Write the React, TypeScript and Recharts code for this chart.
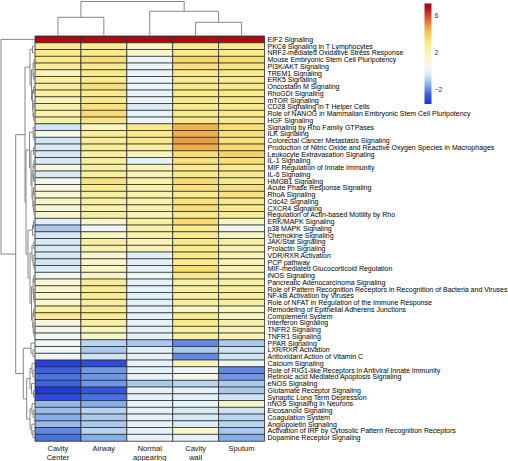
import React from 'react';
import { BarChart, Bar, XAxis, YAxis, Cell, ComposedChart, Line } from 'recharts';

const FONT = '"Liberation Sans", Arial, Helvetica, sans-serif';

const pathways = [
  'EIF2 Signaling',
  'PKC\u03b8 Signaling in T Lymphocytes',
  'NRF2-mediated Oxidative Stress Response',
  'Mouse Embryonic Stem Cell Pluripotency',
  'PI3K/AKT Signaling',
  'TREM1 Signaling',
  'ERK5 Signaling',
  'Oncostatin M Signaling',
  'RhoGDI Signaling',
  'mTOR Signaling',
  'CD28 Signaling in T Helper Cells',
  'Role of NANOG in Mammalian Embryonic Stem Cell Pluripotency',
  'HGF Signaling',
  'Signaling by Rho Family GTPases',
  'ILK Signaling',
  'Colorectal Cancer Metastasis Signaling',
  'Production of Nitric Oxide and Reactive Oxygen Species in Macrophages',
  'Leukocyte Extravasation Signaling',
  'IL-1 Signaling',
  'MIF Regulation of Innate Immunity',
  'IL-6 Signaling',
  'HMGB1 Signaling',
  'Acute Phase Response Signaling',
  'RhoA Signaling',
  'Cdc42 Signaling',
  'CXCR4 Signaling',
  'Regulation of Actin-based Motility by Rho',
  'ERK/MAPK Signaling',
  'p38 MAPK Signaling',
  'Chemokine Signaling',
  'JAK/Stat Signaling',
  'Prolactin Signaling',
  'VDR/RXR Activation',
  'PCP pathway',
  'MIF-mediated Glucocorticoid Regulation',
  'iNOS Signaling',
  'Pancreatic Adenocarcinoma Signaling',
  'Role of Pattern Recognition Receptors in Recognition of Bacteria and Viruses',
  'NF-kB Activation by Viruses',
  'Role of NFAT in Regulation of the Immune Response',
  'Remodeling of Epithelial Adherens Junctions',
  'Complement System',
  'Interferon Signaling',
  'TNFR2 Signaling',
  'TNFR1 Signaling',
  'PPAR Signaling',
  'LXR/RXR Activation',
  'Antioxidant Action of Vitamin C',
  'Calcium Signaling',
  'Role of RIG1-like Receptors in Antiviral Innate Immunity',
  'Retinoic acid Mediated Apoptosis Signaling',
  'eNOS Signaling',
  'Glutamate Receptor Signaling',
  'Synaptic Long Term Depression',
  'nNOS Signaling in Neurons',
  'Eicosanoid Signaling',
  'Coagulation System',
  'Angiopoietin Signaling',
  'Activation of IRF by Cytosolic Pattern Recognition Receptors',
  'Dopamine Receptor Signaling',
];

const columnLabels = ['Cavity\nCenter', 'Airway', 'Normal\nappearing', 'Cavity\nwall', 'Sputum'];

const cavityCenter = [
  7.0, 2.8, 3.0, 3.0, 2.8, 1.8, 2.5, 2.6, 2.5, 2.0,
  2.3, 2.2, 2.5, -0.5, 0.6, -0.5, -0.3, -0.3, -0.3, 0.8,
  -0.2, 0.5, 0.8, 1.0, 1.5, 1.0, 1.2, -0.1, -1.0, -0.3,
  -0.3, -0.3, -0.3, -0.5, -0.2, 0.5, 1.2, 1.2, 1.2, 1.2,
  2.5, 2.8, 0.8, 0.5, 0.5, 0.3, 0.3, 0.3, -3.2, -2.5,
  -2.3, -2.5, -3.4, -3.0, -1.3, -1.2, -1.5, -1.3, -2.0, -2.3,
];
const airway = [
  7.0, 2.8, 3.0, 3.4, 3.0, 3.0, 3.0, 3.4, 3.0, 3.0,
  3.3, 3.4, 3.2, 1.5, 2.8, 2.8, 2.8, 2.5, 2.6, 2.5,
  2.5, 3.3, 3.0, 2.5, 2.5, 2.3, 2.5, 1.4, 0.3, 1.5,
  2.5, 2.3, 1.2, 1.5, 1.5, 1.5, 2.8, 2.8, 2.8, 2.5,
  2.8, 2.8, 2.3, 2.0, 1.5, -0.8, -1.0, -0.5, -3.0, -1.8,
  -1.8, -1.8, -2.8, -2.3, -1.5, -0.8, -1.0, -1.0, -0.8, -1.5,
];
const normalAppearing = [
  7.0, 1.6, 1.2, 0.1, 0.1, 0.1, 0.1, 0.1, 0.1, 0.1,
  -0.2, 0.0, 0.1, 3.0, 3.0, 3.0, 2.5, 1.8, 0.0, 2.0,
  2.0, 2.3, 2.3, 2.3, 2.3, 2.3, 2.0, 2.5, 2.3, 2.3,
  2.0, 2.0, -0.1, -0.1, 0.0, 0.3, 0.0, 0.0, -0.1, -0.1,
  0.0, 0.0, 0.0, 0.0, 0.0, -1.0, 0.0, 0.0, 0.0, 0.0,
  0.0, -1.0, 0.0, 0.0, 0.0, 0.0, 0.0, 0.0, 0.0, 0.0,
];
const cavityWall = [
  7.0, 3.0, 3.0, 3.6, 3.3, 3.0, 3.0, 3.0, 3.0, 3.0,
  3.0, 3.0, 3.0, 4.4, 4.5, 4.8, 4.5, 3.4, 3.3, 3.0,
  3.0, 3.5, 3.3, 3.0, 3.3, 3.5, 3.0, 3.5, 3.0, 3.0,
  3.0, 3.0, 3.0, 3.0, 3.5, 3.0, 2.5, 2.5, 2.5, 2.5,
  1.5, 3.0, 3.0, 2.5, 2.5, -2.0, -1.0, -2.0, 2.0, 0.2,
  0.6, -0.8, 0.0, 0.0, 0.0, -0.3, -0.3, -0.2, 1.3, 0.0,
];
const sputum = [
  7.0, 3.0, 3.0, 3.5, 3.2, 3.0, 3.0, 3.0, 3.0, 3.0,
  3.0, 3.0, 3.0, 3.4, 3.3, 3.3, 3.5, 3.8, 3.4, 3.0,
  3.0, 3.0, 3.3, 3.3, 3.0, 3.0, 2.8, 1.5, 0.5, 1.5,
  2.5, 2.2, 2.0, 2.0, 2.0, 2.0, 2.5, 2.5, 2.5, 2.5,
  1.5, 1.5, 2.3, 2.0, 2.0, -1.0, -0.5, -0.5, 0.5, -2.0,
  -1.8, -1.0, -1.0, -0.5, 1.5, -0.5, -0.8, -0.8, -1.0, -1.5,
];
const seriesValues = [cavityCenter, airway, normalAppearing, cavityWall, sputum];

const scaleMin = -3.54;
const scaleMax = 7.29;
const colorbarTicks = [-2, 0, 2, 4, 6];
const colorStops: [number, string][] = [
  [-3.54, '#1e32d6'],
  [-2.5, '#3c62df'],
  [-1.5, '#86aee9'],
  [-0.5, '#cfe4f5'],
  [0.2, '#eef7fa'],
  [1.0, '#f8f8d6'],
  [2.0, '#f9f3b6'],
  [3.0, '#f9ea8c'],
  [4.0, '#f4cc5c'],
  [4.8, '#ec9e44'],
  [5.8, '#d8502e'],
  [6.6, '#b81c1c'],
  [7.29, '#a00010'],
];

type TreeNode = number | [number, TreeNode, TreeNode];

const columnTree: TreeNode = [34.5, [18.7, 0, 1], [24.7, 2, [13.7, 3, 4]]];

const rowTree: TreeNode = [34, 0, [19.3,
  [10,
    [5, [2.5, 1, 2], [3.5, [2, [1, 3, 4], [1.2, 5, 6]], [2.5, [1.5, 7, 8], [2, [1, 9, 10], [1.3, 11, 12]]]]],
    [9,
      [5.5, [1.8, 13, [1, 14, 15]], [4, [1.5, 16, 17], [3, [2, [1.2, 18, 19], [1.5, 20, 21]], [2.2, [1.5, 22, 23], [1.6, 24, [1, 25, 26]]]]]],
      [7, [2.5, [1.5, 27, 28], 29], [5, [3, [1.2, 30, 31], [2, 32, [1, 33, 34]]], [3.5, [2, [1.3, 35, 36], [1.5, 37, [1, 38, 39]]], [2.2, [1.5, 40, 41], [1.8, 42, [1, 43, 44]]]]]],
    ],
  ],
  [11.7,
    [4, 45, [2, 46, 47]],
    [8.3,
      [5, [3, 48, [2, 49, 50]], [3.5, 51, [1.5, 52, 53]]],
      [5, [3, 54, [1.8, 55, 56]], [3.2, 57, [2, 58, 59]]],
    ],
  ],
]];

function hexToRgb(h: string) {
  const n = parseInt(h.slice(1), 16);
  return [(n >> 16) & 255, (n >> 8) & 255, n & 255];
}
function colorFor(v: number) {
  if (v <= colorStops[0][0]) return colorStops[0][1];
  for (let i = 1; i < colorStops.length; i++) {
    const [v1, c1] = colorStops[i];
    if (v <= v1) {
      const [v0, c0] = colorStops[i - 1];
      const t = (v - v0) / (v1 - v0);
      const a = hexToRgb(c0);
      const b = hexToRgb(c1);
      const m = a.map((x, k) => Math.round(x + (b[k] - x) * t));
      return `rgb(${m[0]},${m[1]},${m[2]})`;
    }
  }
  return colorStops[colorStops.length - 1][1];
}

type Pt = { pos: number; h: number };
function buildSegments(node: TreeNode, out: Pt[][]): Pt {
  if (typeof node === 'number') return { pos: node + 0.5, h: 0 };
  const [h, l, r] = node;
  const a = buildSegments(l, out);
  const b = buildSegments(r, out);
  out.push([
    { pos: a.pos, h: a.h },
    { pos: a.pos, h },
    { pos: b.pos, h },
    { pos: b.pos, h: b.h },
  ]);
  return { pos: (a.pos + b.pos) / 2, h };
}

const colSegs: Pt[][] = [];
buildSegments(columnTree, colSegs);
const rowSegs: Pt[][] = [];
buildSegments(rowTree, rowSegs);

const heatData = pathways.map((name, r) => ({ name, c0: 1, c1: 1, c2: 1, c3: 1, c4: 1, row: r }));
const colorbarData = [{ name: 'scale', range: [scaleMin, scaleMax] }];

const W = 508;
const H = 461;
const PLOT_L = 35;
const PLOT_R = 264.5;
const PLOT_T = 36;
const PLOT_B = 441;
const DENDRO = '#858585';

const ColTick = (props: any) => {
  const { x, y, payload } = props;
  const idx = Math.floor(payload.value);
  const lines = (columnLabels[idx] || '').split('\n');
  return (
    <text x={x} y={y} textAnchor="middle" fontSize={7.5} fill="#111" fontFamily={FONT}>
      {lines.map((l, i) => (
        <tspan key={i} x={x} dy={i === 0 ? 9.6 : 9}>{l}</tspan>
      ))}
    </text>
  );
};

const RowTick = (props: any) => {
  const { x, y, payload } = props;
  return (
    <text x={x} y={y} dy={2.5} textAnchor="start" fontSize={7} fill="#000" fontFamily={FONT}>
      {payload.value}
    </text>
  );
};

const ScaleTick = (props: any) => {
  const { x, y, payload } = props;
  const v = payload.value as number;
  return (
    <text x={x} y={y} dy={2.5} textAnchor="start" fontSize={7} fill="#333" fontFamily={FONT}>
      {v < 0 ? `\u2212${Math.abs(v)}` : `${v}`}
    </text>
  );
};

const abs: React.CSSProperties = { position: 'absolute', left: 0, top: 0 };

export default function App() {
  return (
    <div style={{ position: 'absolute', left: 0, top: 0, width: W, height: H, background: '#fff' }}>
      <div style={abs}>
        <BarChart
          width={W}
          height={H}
          data={heatData}
          layout="vertical"
          barCategoryGap={0}
          margin={{ top: PLOT_T, left: PLOT_L, right: 0, bottom: 0 }}
        >
          <XAxis
            type="number"
            domain={[0, 5]}
            ticks={[0.5, 1.5, 2.5, 3.5, 4.5]}
            height={H - PLOT_B}
            axisLine={false}
            tickLine={false}
            tickSize={0}
            tickMargin={0}
            tick={<ColTick />}
            interval={0}
          />
          <YAxis
            type="category"
            dataKey="name"
            orientation="right"
            width={W - PLOT_R}
            axisLine={false}
            tickLine={false}
            tickSize={0}
            tickMargin={3}
            interval={0}
            tick={<RowTick />}
          />
          {seriesValues.map((vals, ci) => (
            <Bar
              key={ci}
              dataKey={`c${ci}`}
              stackId="cells"
              isAnimationActive={false}
              stroke="#2a2a2a"
              strokeWidth={0.8}
            >
              {heatData.map((d, ri) => (
                <Cell key={ri} fill={colorFor(vals[ri])} />
              ))}
            </Bar>
          ))}
        </BarChart>
      </div>

      <div style={abs}>
        <ComposedChart
          width={W}
          height={H}
          margin={{ top: 0, left: PLOT_L, right: W - PLOT_R, bottom: H - PLOT_T }}
        >
          <XAxis type="number" dataKey="x" domain={[0, 5]} hide allowDataOverflow />
          <YAxis type="number" domain={[0, 36]} hide allowDataOverflow />
          {colSegs.map((seg, i) => (
            <Line
              key={i}
              data={seg.map((p) => ({ x: p.pos, y: p.h }))}
              dataKey="y"
              stroke={DENDRO}
              strokeWidth={1}
              dot={false}
              activeDot={false}
              isAnimationActive={false}
            />
          ))}
        </ComposedChart>
      </div>

      <div style={abs}>
        <ComposedChart
          width={W}
          height={H}
          margin={{ top: PLOT_T, left: 0, right: W - PLOT_L, bottom: H - PLOT_B }}
        >
          <XAxis type="number" dataKey="x" domain={[0, 35]} reversed hide allowDataOverflow />
          <YAxis type="number" domain={[0, 60]} reversed hide allowDataOverflow />
          {rowSegs.map((seg, i) => (
            <Line
              key={i}
              data={seg.map((p) => ({ x: p.h, y: p.pos }))}
              dataKey="y"
              stroke={DENDRO}
              strokeWidth={1}
              dot={false}
              activeDot={false}
              isAnimationActive={false}
            />
          ))}
        </ComposedChart>
      </div>

      <div style={abs}>
        <BarChart
          width={W}
          height={H}
          data={colorbarData}
          barCategoryGap={0}
          margin={{ top: 3.3, left: 424.5, right: W - 431.5 - 30, bottom: H - 104 }}
        >
          <defs>
            <linearGradient id="cbarGrad" x1="0" y1="0" x2="0" y2="1">
              {[...colorStops].reverse().map(([v, c], i) => (
                <stop key={i} offset={(scaleMax - v) / (scaleMax - scaleMin)} stopColor={c} />
              ))}
            </linearGradient>
          </defs>
          <XAxis type="category" dataKey="name" hide />
          <YAxis
            type="number"
            orientation="right"
            domain={[scaleMin, scaleMax]}
            ticks={colorbarTicks}
            width={30}
            axisLine={false}
            tickLine={false}
            tickSize={0}
            tickMargin={3}
            allowDataOverflow
            tick={<ScaleTick />}
          />
          <Bar dataKey="range" fill="url(#cbarGrad)" isAnimationActive={false} />
        </BarChart>
      </div>
    </div>
  );
}
